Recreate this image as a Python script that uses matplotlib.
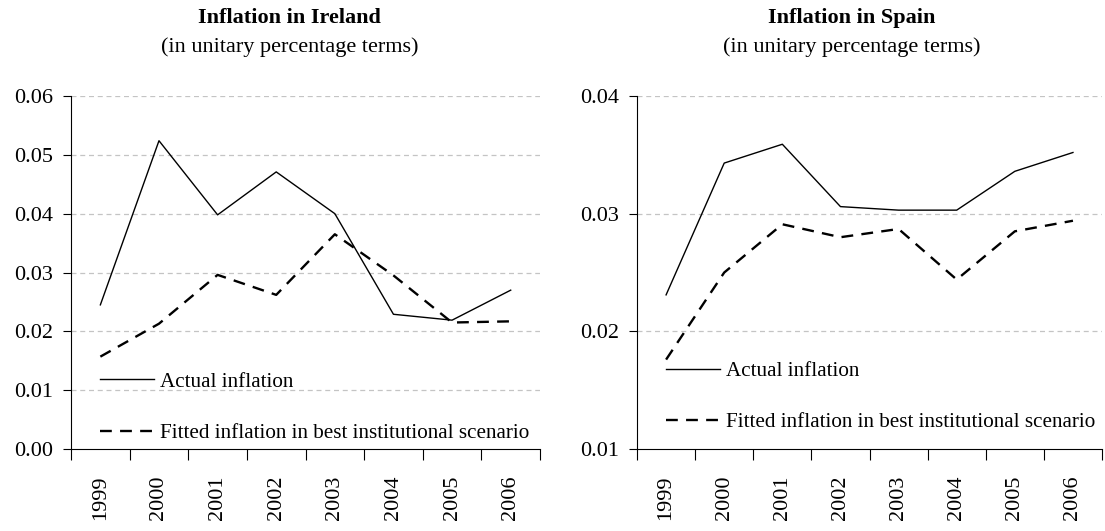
import matplotlib
matplotlib.use("Agg")
import matplotlib.pyplot as plt

years = ["1999", "2000", "2001", "2002", "2003", "2004", "2005", "2006"]

ireland_actual = [0.0245, 0.0524, 0.0398, 0.0471, 0.0400, 0.0229, 0.0219, 0.0270]
ireland_fitted = [0.0157, 0.0213, 0.0296, 0.0262, 0.0365, 0.0295, 0.0215, 0.0217]

spain_actual = [0.0231, 0.0343, 0.0359, 0.0306, 0.0303, 0.0303, 0.0336, 0.0352]
spain_fitted = [0.0176, 0.0250, 0.0291, 0.0280, 0.0287, 0.0244, 0.0285, 0.0294]

ireland_yticks = [0.00, 0.01, 0.02, 0.03, 0.04, 0.05, 0.06]
spain_yticks = [0.01, 0.02, 0.03, 0.04]

plt.rcParams["font.family"] = ["Liberation Serif", "DejaVu Serif"]
plt.rcParams["font.size"] = 16


def draw_panel(ax, actual, fitted, yticks, legend_anchor):
    x = list(range(len(years)))
    ax.plot(x, actual, color="black", lw=1.0, label="Actual inflation")
    ax.plot(x, fitted, color="black", lw=1.7, dashes=(5, 3.5),
            label="Fitted inflation in best institutional scenario")

    ax.set_xlim(-0.5, len(years) - 0.5)
    ax.set_ylim(yticks[0], yticks[-1])
    ax.set_yticks(yticks)
    ax.set_yticklabels([f"{t:.2f}" for t in yticks])
    for t in yticks[1:]:
        ax.axhline(t, color="#c4c4c4", lw=0.9, dashes=(4, 3), zorder=0)

    # ticks at category boundaries, labels at the centres
    ax.set_xticks([i - 0.5 for i in range(len(years) + 1)])
    ax.set_xticklabels([])
    ax.set_xticks(x, minor=True)
    ax.set_xticklabels(years, minor=True, rotation=90, fontsize=16)
    ax.tick_params(axis="x", which="major", length=8, width=0.8, direction="out")
    ax.tick_params(axis="x", which="minor", length=0, pad=19)
    ax.tick_params(axis="y", length=6, width=0.8, pad=7, labelsize=16)

    for side in ["top", "right"]:
        ax.spines[side].set_visible(False)
    for side in ["left", "bottom"]:
        ax.spines[side].set_linewidth(0.8)

    ax.legend(loc="lower left", bbox_to_anchor=legend_anchor, frameon=False,
              handlelength=2.55, handletextpad=0.3, labelspacing=1.5,
              borderpad=0, borderaxespad=0, fontsize=15.2)


fig = plt.figure(figsize=(11.05, 5.31), dpi=100)
ax1 = fig.add_axes([0.0643, 0.1544, 0.4244, 0.6648])
ax2 = fig.add_axes([0.5765, 0.1544, 0.4208, 0.6648])

draw_panel(ax1, ireland_actual, ireland_fitted, ireland_yticks, (0.062, 0.017))
draw_panel(ax2, spain_actual, spain_fitted, spain_yticks, (0.062, 0.047))

fig.text(0.262, 0.966, "Inflation in Ireland", ha="center", va="center",
         fontweight="bold", fontsize=16)
fig.text(0.262, 0.912, "(in unitary percentage terms)", ha="center", va="center",
         fontsize=16)
fig.text(0.771, 0.966, "Inflation in Spain", ha="center", va="center",
         fontweight="bold", fontsize=16)
fig.text(0.771, 0.912, "(in unitary percentage terms)", ha="center", va="center",
         fontsize=16)

fig.savefig("out.png", dpi=100)
